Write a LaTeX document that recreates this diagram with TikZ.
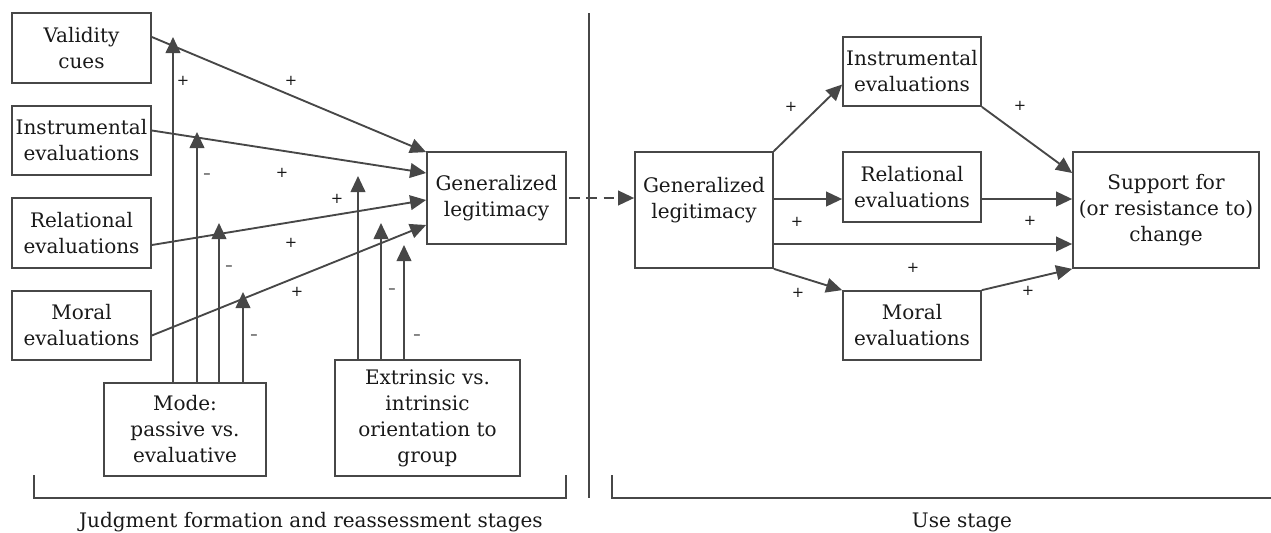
\documentclass[tikz,border=0pt]{standalone}
\usepackage{fontspec}
\setmainfont{DejaVu Serif}
\newfontfamily\signfont{DejaVu Sans}
\usetikzlibrary{arrows.meta,calc}
\definecolor{linegray}{HTML}{474747}
\tikzset{
  box/.style={draw=linegray,line width=1.3pt,align=center,text=black!90,
    font=\fontsize{15}{19.5}\selectfont,inner sep=0pt},
  boxsize/.style 2 args={minimum width=#1*0.75pt,minimum height=#2*0.75pt},
  arr/.style={draw=linegray,line width=1.4pt,-{Triangle[length=12pt,width=11pt]}},
  sgn/.style={font=\signfont\fontsize{11}{12}\selectfont,text=black!90,inner sep=0pt},
  stagetext/.style={font=\fontsize{15}{16}\selectfont,text=black!90,inner sep=0pt}
}
\begin{document}
\begin{tikzpicture}[x=0.75pt,y=-0.75pt]
\useasboundingbox (0,0) rectangle (1271,532);
%
% judgment formation side
	\node[box,boxsize={139}{70}] (valid) at (81.5,48) {Validity\\cues};
	\node[box,boxsize={139}{69}] (instrL) at (81.5,140.5) {Instrumental\\evaluations};
	\node[box,boxsize={139}{70}] (relL) at (81.5,233) {Relational\\evaluations};
	\node[box,boxsize={139}{69}] (moralL) at (81.5,325.5) {Moral\\evaluations};
	\node[box,boxsize={162}{93}] (mode) at (185,429.5) {Mode:\\passive vs.\\evaluative};
	\node[box,boxsize={185}{116}] (extr) at (427.5,418) {Extrinsic vs.\\intrinsic\\orientation to\\group};
	\node[box,boxsize={139}{92}] (glL) at (496.5,198) {Generalized\\legitimacy};
%
	\draw[arr] ($(valid.east)+(0,-11)$) -- ($(glL.north west)+(0,1)$);
	\draw[arr] ($(instrL.east)+(0,-10)$) -- ($(glL.west)+(0,-25)$);
	\draw[arr] ($(relL.east)+(0,12)$) -- ($(glL.west)+(0,2)$);
	\draw[arr] ($(moralL.east)+(0,10)$) -- ($(glL.west)+(0,27)$);
%
% moderators
	\coordinate (m1) at (173,37);
	\coordinate (m2) at (197,132);
	\coordinate (m3) at (219,223);
	\coordinate (m4) at (243,292);
	\coordinate (m5) at (358,176);
	\coordinate (m6) at (381,223);
	\coordinate (m7) at (404,245);
	\foreach \m in {m1,m2,m3,m4}
		\draw[arr] (mode.north -| \m) -- (\m);
	\foreach \m in {m5,m6,m7}
		\draw[arr] (extr.north -| \m) -- (\m);
%
	\node[sgn] (s1) at (183,81) {+};
	\node[sgn] (s2) at (291,81) {+};
	\node[sgn] (s3) at (207,176) {\textendash};
	\node[sgn] (s4) at (282,173) {+};
	\node[sgn] (s5) at (337,199) {+};
	\node[sgn] (s6) at (291,243) {+};
	\node[sgn] (s7) at (229,268) {\textendash};
	\node[sgn] (s8) at (297,292) {+};
	\node[sgn] (s9) at (254,337) {\textendash};
	\node[sgn] (s10) at (392,291) {\textendash};
	\node[sgn] (s11) at (417,337) {\textendash};
%
% use stage side
	\node[box,boxsize={138}{116}] (glR) at (704,210) {};
	\node[align=center,font=\fontsize{15}{19.5}\selectfont,text=black!90,inner sep=0pt] (glRtext) at (704,200) {Generalized\\legitimacy};
	\node[box,boxsize={138}{69}] (instrR) at (912,71.5) {Instrumental\\evaluations};
	\node[box,boxsize={138}{70}] (relR) at (912,187) {Relational\\evaluations};
	\node[box,boxsize={138}{69}] (moralR) at (912,325.5) {Moral\\evaluations};
	\node[box,boxsize={186}{116}] (supp) at (1166,210) {Support for\\(or resistance to)\\change};
%
	\draw[arr,dashed,dash pattern=on 8pt off 5pt] ($(glL.east)+(2,0)$) -- ($(glR.west)+(0,-12)$);
	\draw[arr] (glR.north east) -- ($(instrR.west)+(0,13)$);
	\draw[arr] ($(glR.east)+(0,-11)$) -- ($(relR.west)+(0,12)$);
	\draw[arr] ($(glR.east)+(0,34)$) -- ($(supp.west)+(0,34)$);
	\draw[arr] (glR.south east) -- (moralR.north west);
	\draw[arr] (instrR.south east) -- ($(supp.west)+(0,-37)$);
	\draw[arr] ($(relR.east)+(0,12)$) -- ($(supp.west)+(0,-11)$);
	\draw[arr] (moralR.north east) -- (supp.south west);
%
	\node[sgn] (r1) at (791,107) {+};
	\node[sgn] (r2) at (1020,106) {+};
	\node[sgn] (r3) at (797,222) {+};
	\node[sgn] (r4) at (1030,221) {+};
	\node[sgn] (r5) at (913,268) {+};
	\node[sgn] (r6) at (798,293) {+};
	\node[sgn] (r7) at (1028,291) {+};
%
% stages
	\draw[linegray,line width=1.3pt] (589,13) -- (589,498);
	\draw[linegray,line width=1.3pt] (34,475) |- (566,498) -- (566,475);
	\draw[linegray,line width=1.3pt] (612,475) |- (1271,498);
	\node[stagetext] (jstage) at (311,522) {Judgment formation and reassessment stages};
	\node[stagetext] (ustage) at (962,522) {Use stage};
%
\end{tikzpicture}
\end{document}
